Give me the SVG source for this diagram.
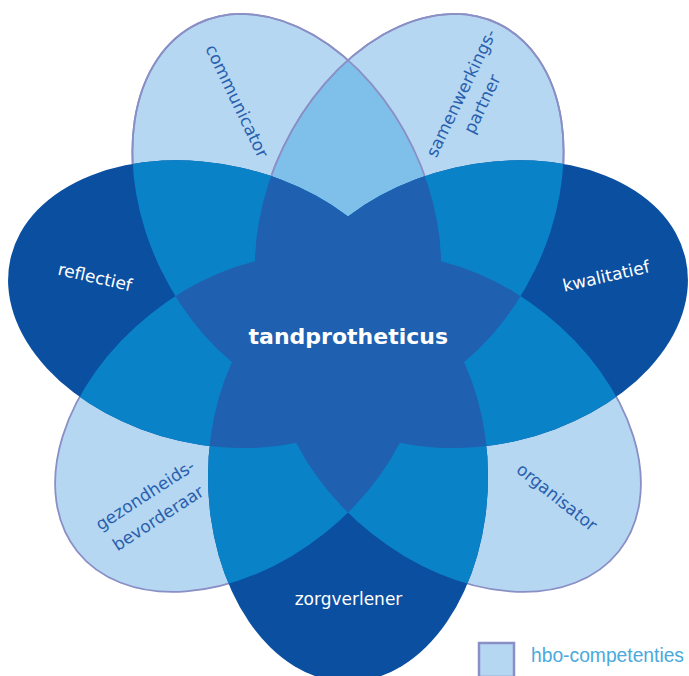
<svg xmlns="http://www.w3.org/2000/svg" width="689" height="676" viewBox="0 0 689 676">
<style>
.light{fill:#b5d7f2;stroke:#8a8fc5;stroke-width:1.8}
.outline{fill:none;stroke:#8a8fc5;stroke-width:1.8}
.dark{fill:#0b4fa1}
.ll{fill:#7fc0ea}
.ld{fill:#0a82c8}
.core{fill:#1f60b0}
.lbl{font-family:"DejaVu Sans",sans-serif;font-size:17px;text-anchor:middle}
.lbl-l{fill:#2a5fae}
.lbl-d{fill:#ffffff}
.title{font-family:"DejaVu Sans",sans-serif;font-size:22px;font-weight:bold;fill:#ffffff;text-anchor:middle}
.legend-text{font-family:"Liberation Sans",Arial,sans-serif;font-size:19.5px;fill:#4aa9dd}
</style>
<defs>
<ellipse id="eZ" rx="205" ry="140" transform="translate(348 476.8) rotate(90)"/>
<ellipse id="eG" rx="205" ry="140" transform="translate(237.61 423.64) rotate(141.43)"/>
<ellipse id="eR" rx="205" ry="140" transform="translate(210.34 304.18) rotate(192.86)"/>
<ellipse id="eC" rx="205" ry="140" transform="translate(286.74 208.38) rotate(244.29)"/>
<ellipse id="eS" rx="205" ry="140" transform="translate(409.26 208.38) rotate(295.71)"/>
<ellipse id="eK" rx="205" ry="140" transform="translate(485.66 304.18) rotate(347.14)"/>
<ellipse id="eO" rx="205" ry="140" transform="translate(458.39 423.64) rotate(38.57)"/>
<clipPath id="cZ"><use href="#eZ"/></clipPath>
<clipPath id="cG"><use href="#eG"/></clipPath>
<clipPath id="cR"><use href="#eR"/></clipPath>
<clipPath id="cC"><use href="#eC"/></clipPath>
<clipPath id="cS"><use href="#eS"/></clipPath>
<clipPath id="cK"><use href="#eK"/></clipPath>
<clipPath id="cO"><use href="#eO"/></clipPath>
</defs>

<!-- light petals -->
<g id="node-gezondheidsbevorderaar">
<use href="#eG" class="light"/>
<text class="lbl lbl-l" transform="translate(145 495) rotate(-33)" y="6">gezondheids-</text>
<text class="lbl lbl-l" transform="translate(158 518) rotate(-33)" y="6">bevorderaar</text>
</g>
<g id="node-organisator">
<use href="#eO" class="light"/>
<text class="lbl lbl-l" transform="translate(557 497) rotate(38.57)" y="6">organisator</text>
</g>
<g id="node-communicator">
<use href="#eC" class="light"/>
<text class="lbl lbl-l" transform="translate(237 101) rotate(64.29)" y="6">communicator</text>
</g>
<g id="node-samenwerkingspartner">
<use href="#eS" class="light"/>
<text class="lbl lbl-l" transform="translate(461 93) rotate(-64.29)" y="6">samenwerkings-</text>
<text class="lbl lbl-l" transform="translate(482 104) rotate(-64.29)" y="6">partner</text>
</g>

<g id="overlap-light">
<g clip-path="url(#cC)"><use href="#eS" class="ll"/></g>
<use href="#eC" class="outline"/>
<use href="#eS" class="outline"/>
</g>

<!-- dark petals -->
<g id="node-zorgverlener">
<use href="#eZ" class="dark"/>
<text class="lbl lbl-d" x="348.5" y="605">zorgverlener</text>
</g>
<g id="node-reflectief">
<use href="#eR" class="dark"/>
<text class="lbl lbl-d" transform="translate(95 277) rotate(12.86)" y="6">reflectief</text>
</g>
<g id="node-kwalitatief">
<use href="#eK" class="dark"/>
<text class="lbl lbl-d" transform="translate(606 276) rotate(-12.86)" y="6">kwalitatief</text>
</g>

<g id="overlap-mixed">
<g clip-path="url(#cZ)"><use href="#eG" class="ld"/></g>
<g clip-path="url(#cG)"><use href="#eR" class="ld"/></g>
<g clip-path="url(#cR)"><use href="#eC" class="ld"/></g>
<g clip-path="url(#cS)"><use href="#eK" class="ld"/></g>
<g clip-path="url(#cK)"><use href="#eO" class="ld"/></g>
<g clip-path="url(#cO)"><use href="#eZ" class="ld"/></g>
</g>

<g id="overlap-core">
<g clip-path="url(#cO)"><g clip-path="url(#cZ)"><use href="#eG" class="core"/></g></g>
<g clip-path="url(#cZ)"><g clip-path="url(#cG)"><use href="#eR" class="core"/></g></g>
<g clip-path="url(#cG)"><g clip-path="url(#cR)"><use href="#eC" class="core"/></g></g>
<g clip-path="url(#cR)"><g clip-path="url(#cC)"><use href="#eS" class="core"/></g></g>
<g clip-path="url(#cC)"><g clip-path="url(#cS)"><use href="#eK" class="core"/></g></g>
<g clip-path="url(#cS)"><g clip-path="url(#cK)"><use href="#eO" class="core"/></g></g>
<g clip-path="url(#cK)"><g clip-path="url(#cO)"><use href="#eZ" class="core"/></g></g>
</g>

<g id="node-tandprotheticus">
<text class="title" x="348.3" y="344">tandprotheticus</text>
</g>

<g id="legend">
<rect x="479" y="643" width="35" height="34" fill="#b5d7f2" stroke="#8a8fc5" stroke-width="2.5"/>
<text class="legend-text" x="531" y="662" textLength="153" lengthAdjust="spacingAndGlyphs">hbo-competenties</text>
</g>
</svg>
